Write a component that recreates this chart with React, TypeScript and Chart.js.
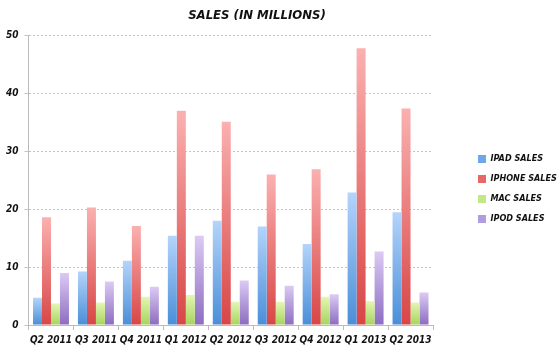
import React, { useEffect, useRef } from "react";
import { Chart, registerables } from "chart.js";

Chart.register(...registerables);

const categories = ["Q2 2011", "Q3 2011", "Q4 2011", "Q1 2012", "Q2 2012", "Q3 2012", "Q4 2012", "Q1 2013", "Q2 2013"];
const ipadSales = [4.7, 9.25, 11.1, 15.4, 18.0, 17.0, 14.0, 22.9, 19.5];
const iphoneSales = [18.6, 20.3, 17.1, 37.0, 35.1, 26.0, 26.9, 47.8, 37.4];
const macSales = [3.7, 3.9, 4.9, 5.2, 4.0, 4.0, 4.9, 4.1, 3.9];
const ipodSales = [9.0, 7.5, 6.6, 15.4, 7.7, 6.8, 5.3, 12.7, 5.6];
const yTicks = [0, 10, 20, 30, 40, 50];

const FONT = "'DejaVu Sans Condensed', 'Liberation Sans Narrow', sans-serif";

function grad(top: string, bottom: string) {
  return (ctx: any) => {
    const chart = ctx.chart;
    const area = chart.chartArea;
    if (!area || ctx.type !== "data") return bottom;
    const ys = chart.scales.y;
    const t = ys.getPixelForValue(ctx.raw);
    const b = ys.getPixelForValue(0);
    if (!isFinite(t) || !isFinite(b) || b - t < 1) return bottom;
    const g = chart.ctx.createLinearGradient(0, t, 0, b);
    g.addColorStop(0, top);
    g.addColorStop(1, bottom);
    return g;
  };
}

const layoutTweak = {
  id: "layoutTweak",
  beforeLayout(chart: any) {
    const lg = chart.legend;
    if (lg && !lg.__patched) {
      const orig = lg.fit;
      lg.fit = function () {
        orig.call(this);
        this.width = 119;
        this.minSize = { width: this.width, height: this.height };
      };
      lg.__patched = true;
    }
  },
  afterLayout(chart: any) {
    const lg = chart.legend;
    if (lg) {
      lg.left = 467;
      lg.right = 560;
      lg.top = 0;
      lg.bottom = 378;
      lg.height = 378;
    }
    const tb = chart.titleBlock;
    if (tb) {
      tb.left -= 19;
      tb.right -= 19;
    }
  },
};

export default function App() {
  const ref = useRef<HTMLCanvasElement>(null);
  useEffect(() => {
    const tickFont = { family: FONT, size: 10, weight: "bold", style: "italic" };
    const chart = new Chart(ref.current!, {
      type: "bar",
      data: {
        labels: categories,
        datasets: [
          { label: "IPAD SALES", data: ipadSales, backgroundColor: grad("#b4d4fb", "#4a8ed8") },
          { label: "IPHONE SALES", data: iphoneSales, backgroundColor: grad("#fbb0b0", "#d84646") },
          { label: "MAC SALES", data: macSales, backgroundColor: grad("#e4f6b4", "#a6d45c") },
          { label: "IPOD SALES", data: ipodSales, backgroundColor: grad("#dccaf4", "#8c6cc0") },
        ],
      },
      plugins: [layoutTweak],
      options: {
        animation: false,
        responsive: false,
        maintainAspectRatio: false,
        layout: { padding: { left: 0, right: 8, top: 4, bottom: 2 } },
        datasets: { bar: { categoryPercentage: 0.8, barPercentage: 1.0 } },
        plugins: {
          title: {
            display: true,
            text: "SALES (IN MILLIONS)",
            color: "#111",
            font: { family: FONT, size: 13, weight: "bold", style: "italic" },
            padding: { top: 4, bottom: 12 },
          },
          legend: {
            position: "right",
            labels: {
              color: "#111",
              boxWidth: 8,
              boxHeight: 8,
              padding: 11,
              font: { family: FONT, size: 9, weight: "bold", style: "italic" },
              generateLabels: (chart: any) => {
                const fills = ["#6ea6e8", "#e86868", "#c4e888", "#b09ce0"];
                return chart.data.datasets.map((d: any, i: number) => ({
                  text: d.label,
                  fillStyle: fills[i],
                  strokeStyle: fills[i],
                  lineWidth: 0,
                  fontColor: "#111",
                  datasetIndex: i,
                  hidden: false,
                }));
              },
            },
          },
          tooltip: { enabled: false },
        },
        scales: {
          x: {
            grid: { drawOnChartArea: false, drawTicks: true, tickLength: 5, color: "#bbb", offset: true },
            border: { color: "#bbb", width: 1 },
            ticks: { color: "#111", font: tickFont, padding: 4, maxRotation: 0, minRotation: 0, autoSkip: false },
          },
          y: {
            min: 0,
            max: 50,
            afterBuildTicks: (axis: any) => {
              axis.ticks = yTicks.map((v) => ({ value: v }));
            },
            grid: { color: "#c4c4c4", tickLength: 4, drawTicks: true },
            border: { color: "#bbb", width: 1, dash: [2, 2] },
            ticks: { color: "#111", font: tickFont, padding: 6 },
          },
        },
      },
    } as any);
    return () => chart.destroy();
  }, []);
  return (
    <div style={{ position: "fixed", left: 0, top: 0, width: 560, height: 352, background: "#fff" }}>
      <canvas ref={ref} width={560} height={352} />
    </div>
  );
}
